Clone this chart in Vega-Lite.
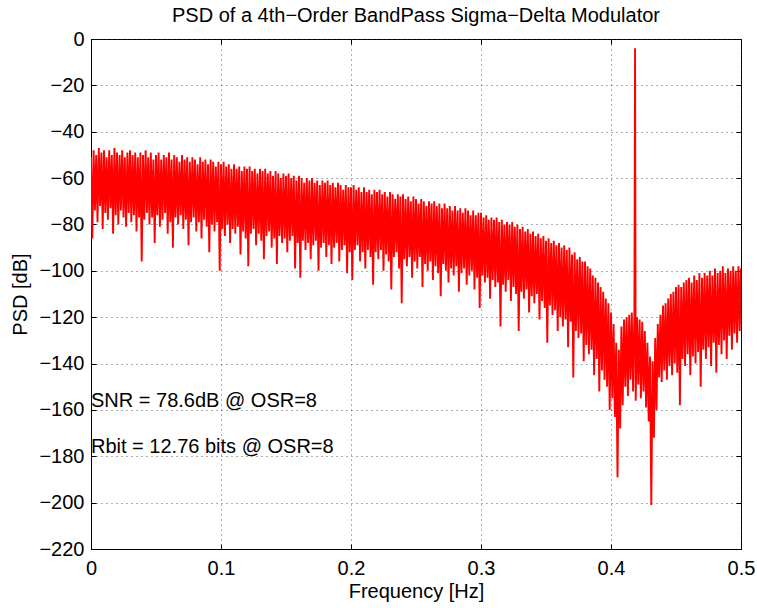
{
  "$schema": "https://vega.github.io/schema/vega-lite/v6.json",
  "width": 650,
  "height": 510,
  "autosize": {"type": "none"},
  "padding": {"left": 91, "top": 39, "right": 16, "bottom": 59},
  "background": "white",
  "title": {"text": "PSD of a 4th−Order BandPass Sigma−Delta Modulator", "font": "Liberation Sans", "fontSize": 20, "fontWeight": "normal", "color": "black", "anchor": "middle", "offset": 3},
  "config": {
    "view": {"stroke": "black", "strokeWidth": 1},
    "axis": {"labelFont": "Liberation Sans", "titleFont": "Liberation Sans", "labelColor": "black", "titleColor": "black", "domainColor": "black", "tickColor": "black", "gridColor": "#333", "gridDash": [1, 4], "gridOpacity": 0.8, "labelOverlap": false, "labelFlush": false}
  },
  "datasets": {
    "psd": [
      {"f":0.000,"p":-51},{"f":0.001,"p":-86},{"f":0.002,"p":-48},{"f":0.003,"p":-74},{"f":0.004,"p":-50},{"f":0.005,"p":-79},{"f":0.006,"p":-47},{"f":0.007,"p":-72},{"f":0.008,"p":-49},{"f":0.009,"p":-82},
      {"f":0.010,"p":-48},{"f":0.011,"p":-75},{"f":0.012,"p":-51},{"f":0.013,"p":-78},{"f":0.014,"p":-48},{"f":0.015,"p":-73},{"f":0.016,"p":-50},{"f":0.017,"p":-84},{"f":0.018,"p":-47},{"f":0.019,"p":-76},
      {"f":0.020,"p":-49},{"f":0.021,"p":-80},{"f":0.022,"p":-50},{"f":0.023,"p":-74},{"f":0.024,"p":-48},{"f":0.025,"p":-77},{"f":0.026,"p":-51},{"f":0.027,"p":-81},{"f":0.028,"p":-49},{"f":0.029,"p":-75},
      {"f":0.030,"p":-48},{"f":0.031,"p":-79},{"f":0.032,"p":-50},{"f":0.033,"p":-76},{"f":0.034,"p":-49},{"f":0.035,"p":-83},{"f":0.036,"p":-51},{"f":0.037,"p":-77},{"f":0.038,"p":-49},{"f":0.039,"p":-96},
      {"f":0.040,"p":-50},{"f":0.041,"p":-78},{"f":0.042,"p":-48},{"f":0.043,"p":-75},{"f":0.044,"p":-51},{"f":0.045,"p":-80},{"f":0.046,"p":-49},{"f":0.047,"p":-77},{"f":0.048,"p":-52},{"f":0.049,"p":-88},
      {"f":0.050,"p":-50},{"f":0.051,"p":-76},{"f":0.052,"p":-49},{"f":0.053,"p":-81},{"f":0.054,"p":-52},{"f":0.055,"p":-78},{"f":0.056,"p":-50},{"f":0.057,"p":-75},{"f":0.058,"p":-51},{"f":0.059,"p":-84},
      {"f":0.060,"p":-49},{"f":0.061,"p":-79},{"f":0.062,"p":-52},{"f":0.063,"p":-90},{"f":0.064,"p":-50},{"f":0.065,"p":-77},{"f":0.066,"p":-51},{"f":0.067,"p":-80},{"f":0.068,"p":-53},{"f":0.069,"p":-76},
      {"f":0.070,"p":-50},{"f":0.071,"p":-82},{"f":0.072,"p":-52},{"f":0.073,"p":-78},{"f":0.074,"p":-51},{"f":0.075,"p":-89},{"f":0.076,"p":-53},{"f":0.077,"p":-79},{"f":0.078,"p":-51},{"f":0.079,"p":-77},
      {"f":0.080,"p":-52},{"f":0.081,"p":-83},{"f":0.082,"p":-54},{"f":0.083,"p":-79},{"f":0.084,"p":-51},{"f":0.085,"p":-86},{"f":0.086,"p":-53},{"f":0.087,"p":-78},{"f":0.088,"p":-52},{"f":0.089,"p":-81},
      {"f":0.090,"p":-54},{"f":0.091,"p":-92},{"f":0.092,"p":-52},{"f":0.093,"p":-80},{"f":0.094,"p":-53},{"f":0.095,"p":-83},{"f":0.096,"p":-55},{"f":0.097,"p":-79},{"f":0.098,"p":-53},{"f":0.099,"p":-100},
      {"f":0.100,"p":-54},{"f":0.101,"p":-82},{"f":0.102,"p":-53},{"f":0.103,"p":-85},{"f":0.104,"p":-55},{"f":0.105,"p":-80},{"f":0.106,"p":-54},{"f":0.107,"p":-88},{"f":0.108,"p":-56},{"f":0.109,"p":-82},
      {"f":0.110,"p":-54},{"f":0.111,"p":-84},{"f":0.112,"p":-56},{"f":0.113,"p":-81},{"f":0.114,"p":-55},{"f":0.115,"p":-93},{"f":0.116,"p":-57},{"f":0.117,"p":-83},{"f":0.118,"p":-55},{"f":0.119,"p":-86},
      {"f":0.120,"p":-56},{"f":0.121,"p":-98},{"f":0.122,"p":-55},{"f":0.123,"p":-84},{"f":0.124,"p":-57},{"f":0.125,"p":-82},{"f":0.126,"p":-56},{"f":0.127,"p":-89},{"f":0.128,"p":-58},{"f":0.129,"p":-84},
      {"f":0.130,"p":-56},{"f":0.131,"p":-87},{"f":0.132,"p":-57},{"f":0.133,"p":-95},{"f":0.134,"p":-56},{"f":0.135,"p":-85},{"f":0.136,"p":-58},{"f":0.137,"p":-83},{"f":0.138,"p":-57},{"f":0.139,"p":-90},
      {"f":0.140,"p":-59},{"f":0.141,"p":-86},{"f":0.142,"p":-57},{"f":0.143,"p":-97},{"f":0.144,"p":-58},{"f":0.145,"p":-85},{"f":0.146,"p":-60},{"f":0.147,"p":-88},{"f":0.148,"p":-58},{"f":0.149,"p":-86},
      {"f":0.150,"p":-59},{"f":0.151,"p":-92},{"f":0.152,"p":-58},{"f":0.153,"p":-87},{"f":0.154,"p":-60},{"f":0.155,"p":-85},{"f":0.156,"p":-59},{"f":0.157,"p":-99},{"f":0.158,"p":-61},{"f":0.159,"p":-88},
      {"f":0.160,"p":-59},{"f":0.161,"p":-103},{"f":0.162,"p":-60},{"f":0.163,"p":-87},{"f":0.164,"p":-62},{"f":0.165,"p":-91},{"f":0.166,"p":-60},{"f":0.167,"p":-88},{"f":0.168,"p":-61},{"f":0.169,"p":-95},
      {"f":0.170,"p":-60},{"f":0.171,"p":-89},{"f":0.172,"p":-62},{"f":0.173,"p":-87},{"f":0.174,"p":-61},{"f":0.175,"p":-100},{"f":0.176,"p":-63},{"f":0.177,"p":-90},{"f":0.178,"p":-61},{"f":0.179,"p":-88},
      {"f":0.180,"p":-62},{"f":0.181,"p":-94},{"f":0.182,"p":-61},{"f":0.183,"p":-89},{"f":0.184,"p":-63},{"f":0.185,"p":-97},{"f":0.186,"p":-62},{"f":0.187,"p":-90},{"f":0.188,"p":-64},{"f":0.189,"p":-88},
      {"f":0.190,"p":-62},{"f":0.191,"p":-96},{"f":0.192,"p":-63},{"f":0.193,"p":-91},{"f":0.194,"p":-65},{"f":0.195,"p":-89},{"f":0.196,"p":-63},{"f":0.197,"p":-101},{"f":0.198,"p":-64},{"f":0.199,"p":-92},
      {"f":0.200,"p":-64},{"f":0.201,"p":-104},{"f":0.202,"p":-63},{"f":0.203,"p":-91},{"f":0.204,"p":-65},{"f":0.205,"p":-89},{"f":0.206,"p":-64},{"f":0.207,"p":-96},{"f":0.208,"p":-66},{"f":0.209,"p":-92},
      {"f":0.210,"p":-64},{"f":0.211,"p":-99},{"f":0.212,"p":-66},{"f":0.213,"p":-91},{"f":0.214,"p":-65},{"f":0.215,"p":-94},{"f":0.216,"p":-67},{"f":0.217,"p":-106},{"f":0.218,"p":-65},{"f":0.219,"p":-92},
      {"f":0.220,"p":-66},{"f":0.221,"p":-95},{"f":0.222,"p":-65},{"f":0.223,"p":-91},{"f":0.224,"p":-67},{"f":0.225,"p":-100},{"f":0.226,"p":-66},{"f":0.227,"p":-93},{"f":0.228,"p":-68},{"f":0.229,"p":-96},
      {"f":0.230,"p":-66},{"f":0.231,"p":-108},{"f":0.232,"p":-67},{"f":0.233,"p":-94},{"f":0.234,"p":-69},{"f":0.235,"p":-92},{"f":0.236,"p":-67},{"f":0.237,"p":-99},{"f":0.238,"p":-68},{"f":0.239,"p":-114},
      {"f":0.240,"p":-67},{"f":0.241,"p":-95},{"f":0.242,"p":-69},{"f":0.243,"p":-98},{"f":0.244,"p":-68},{"f":0.245,"p":-94},{"f":0.246,"p":-70},{"f":0.247,"p":-103},{"f":0.248,"p":-68},{"f":0.249,"p":-96},
      {"f":0.250,"p":-69},{"f":0.251,"p":-99},{"f":0.252,"p":-71},{"f":0.253,"p":-94},{"f":0.254,"p":-69},{"f":0.255,"p":-107},{"f":0.256,"p":-70},{"f":0.257,"p":-97},{"f":0.258,"p":-72},{"f":0.259,"p":-100},
      {"f":0.260,"p":-70},{"f":0.261,"p":-96},{"f":0.262,"p":-71},{"f":0.263,"p":-104},{"f":0.264,"p":-70},{"f":0.265,"p":-98},{"f":0.266,"p":-72},{"f":0.267,"p":-101},{"f":0.268,"p":-71},{"f":0.269,"p":-111},
      {"f":0.270,"p":-73},{"f":0.271,"p":-97},{"f":0.272,"p":-71},{"f":0.273,"p":-100},{"f":0.274,"p":-73},{"f":0.275,"p":-105},{"f":0.276,"p":-72},{"f":0.277,"p":-99},{"f":0.278,"p":-74},{"f":0.279,"p":-102},
      {"f":0.280,"p":-72},{"f":0.281,"p":-98},{"f":0.282,"p":-74},{"f":0.283,"p":-109},{"f":0.284,"p":-73},{"f":0.285,"p":-101},{"f":0.286,"p":-75},{"f":0.287,"p":-99},{"f":0.288,"p":-73},{"f":0.289,"p":-106},
      {"f":0.290,"p":-74},{"f":0.291,"p":-102},{"f":0.292,"p":-76},{"f":0.293,"p":-100},{"f":0.294,"p":-74},{"f":0.295,"p":-108},{"f":0.296,"p":-76},{"f":0.297,"p":-103},{"f":0.298,"p":-75},{"f":0.299,"p":-116},
      {"f":0.300,"p":-75},{"f":0.301,"p":-102},{"f":0.302,"p":-77},{"f":0.303,"p":-105},{"f":0.304,"p":-76},{"f":0.305,"p":-103},{"f":0.306,"p":-78},{"f":0.307,"p":-112},{"f":0.308,"p":-77},{"f":0.309,"p":-104},
      {"f":0.310,"p":-78},{"f":0.311,"p":-107},{"f":0.312,"p":-77},{"f":0.313,"p":-105},{"f":0.314,"p":-79},{"f":0.315,"p":-124},{"f":0.316,"p":-78},{"f":0.317,"p":-106},{"f":0.318,"p":-80},{"f":0.319,"p":-109},
      {"f":0.320,"p":-79},{"f":0.321,"p":-104},{"f":0.322,"p":-80},{"f":0.323,"p":-113},{"f":0.324,"p":-79},{"f":0.325,"p":-107},{"f":0.326,"p":-81},{"f":0.327,"p":-110},{"f":0.328,"p":-80},{"f":0.329,"p":-126},
      {"f":0.330,"p":-82},{"f":0.331,"p":-109},{"f":0.332,"p":-81},{"f":0.333,"p":-112},{"f":0.334,"p":-83},{"f":0.335,"p":-108},{"f":0.336,"p":-82},{"f":0.337,"p":-118},{"f":0.338,"p":-84},{"f":0.339,"p":-111},
      {"f":0.340,"p":-83},{"f":0.341,"p":-114},{"f":0.342,"p":-85},{"f":0.343,"p":-110},{"f":0.344,"p":-84},{"f":0.345,"p":-121},{"f":0.346,"p":-86},{"f":0.347,"p":-113},{"f":0.348,"p":-85},{"f":0.349,"p":-116},
      {"f":0.350,"p":-87},{"f":0.351,"p":-131},{"f":0.352,"p":-86},{"f":0.353,"p":-115},{"f":0.354,"p":-88},{"f":0.355,"p":-119},{"f":0.356,"p":-87},{"f":0.357,"p":-117},{"f":0.358,"p":-89},{"f":0.359,"p":-126},
      {"f":0.360,"p":-88},{"f":0.361,"p":-120},{"f":0.362,"p":-90},{"f":0.363,"p":-124},{"f":0.364,"p":-89},{"f":0.365,"p":-121},{"f":0.366,"p":-91},{"f":0.367,"p":-133},{"f":0.368,"p":-90},{"f":0.369,"p":-122},
      {"f":0.370,"p":-93},{"f":0.371,"p":-146},{"f":0.372,"p":-92},{"f":0.373,"p":-126},{"f":0.374,"p":-95},{"f":0.375,"p":-129},{"f":0.376,"p":-94},{"f":0.377,"p":-127},{"f":0.378,"p":-96},{"f":0.379,"p":-139},
      {"f":0.380,"p":-96},{"f":0.381,"p":-132},{"f":0.382,"p":-98},{"f":0.383,"p":-136},{"f":0.384,"p":-99},{"f":0.385,"p":-134},{"f":0.386,"p":-102},{"f":0.387,"p":-145},{"f":0.388,"p":-103},{"f":0.389,"p":-138},
      {"f":0.390,"p":-105},{"f":0.391,"p":-152},{"f":0.392,"p":-107},{"f":0.393,"p":-143},{"f":0.394,"p":-109},{"f":0.395,"p":-147},{"f":0.396,"p":-112},{"f":0.397,"p":-150},{"f":0.398,"p":-114},{"f":0.399,"p":-160},
      {"f":0.400,"p":-118},{"f":0.401,"p":-155},{"f":0.402,"p":-123},{"f":0.403,"p":-163},{"f":0.404,"p":-131},{"f":0.405,"p":-189},{"f":0.406,"p":-134},{"f":0.407,"p":-168},{"f":0.408,"p":-124},{"f":0.409,"p":-158},
      {"f":0.410,"p":-121},{"f":0.411,"p":-150},{"f":0.412,"p":-120},{"f":0.413,"p":-154},{"f":0.414,"p":-119},{"f":0.415,"p":-147},{"f":0.416,"p":-118},{"f":0.417,"p":-152},{"f":0.418,"p":-119},{"f":0.4185,"p":-4},{"f":0.419,"p":-156},
      {"f":0.420,"p":-120},{"f":0.421,"p":-149},{"f":0.422,"p":-121},{"f":0.423,"p":-155},{"f":0.424,"p":-122},{"f":0.425,"p":-152},{"f":0.426,"p":-126},{"f":0.427,"p":-159},{"f":0.428,"p":-131},{"f":0.429,"p":-165},
      {"f":0.430,"p":-137},{"f":0.431,"p":-201},{"f":0.432,"p":-139},{"f":0.433,"p":-172},{"f":0.434,"p":-129},{"f":0.435,"p":-160},{"f":0.436,"p":-123},{"f":0.437,"p":-146},{"f":0.438,"p":-119},{"f":0.439,"p":-148},
      {"f":0.440,"p":-115},{"f":0.441,"p":-143},{"f":0.442,"p":-114},{"f":0.443,"p":-147},{"f":0.444,"p":-112},{"f":0.445,"p":-141},{"f":0.446,"p":-110},{"f":0.447,"p":-145},{"f":0.448,"p":-109},{"f":0.449,"p":-140},
      {"f":0.450,"p":-107},{"f":0.451,"p":-144},{"f":0.452,"p":-106},{"f":0.453,"p":-158},{"f":0.454,"p":-107},{"f":0.455,"p":-138},{"f":0.456,"p":-105},{"f":0.457,"p":-141},{"f":0.458,"p":-104},{"f":0.459,"p":-136},
      {"f":0.460,"p":-103},{"f":0.461,"p":-145},{"f":0.462,"p":-105},{"f":0.463,"p":-137},{"f":0.464,"p":-102},{"f":0.465,"p":-140},{"f":0.466,"p":-104},{"f":0.467,"p":-135},{"f":0.468,"p":-101},{"f":0.469,"p":-150},
      {"f":0.470,"p":-103},{"f":0.471,"p":-134},{"f":0.472,"p":-101},{"f":0.473,"p":-138},{"f":0.474,"p":-102},{"f":0.475,"p":-133},{"f":0.476,"p":-100},{"f":0.477,"p":-141},{"f":0.478,"p":-102},{"f":0.479,"p":-131},
      {"f":0.480,"p":-99},{"f":0.481,"p":-144},{"f":0.482,"p":-101},{"f":0.483,"p":-132},{"f":0.484,"p":-100},{"f":0.485,"p":-136},{"f":0.486,"p":-98},{"f":0.487,"p":-130},{"f":0.488,"p":-101},{"f":0.489,"p":-138},
      {"f":0.490,"p":-99},{"f":0.491,"p":-128},{"f":0.492,"p":-100},{"f":0.493,"p":-134},{"f":0.494,"p":-98},{"f":0.495,"p":-127},{"f":0.496,"p":-100},{"f":0.497,"p":-131},{"f":0.498,"p":-98},{"f":0.499,"p":-126},
      {"f":0.500,"p":-99}
    ],
    "notes": [
      {"x": 0, "y": -160, "t": "SNR = 78.6dB @ OSR=8"},
      {"x": 0, "y": -180, "t": "Rbit = 12.76 bits @ OSR=8"}
    ]
  },
  "layer": [
    {
      "data": {"name": "psd"},
      "mark": {"type": "line", "color": "#ff0000", "strokeWidth": 1.9, "clip": true},
      "encoding": {
        "x": {"field": "f", "type": "quantitative", "scale": {"domain": [0, 0.5], "nice": false, "zero": false},
              "axis": {"orient": "bottom", "values": [0, 0.1, 0.2, 0.3, 0.4, 0.5], "format": ".1~f", "title": "Frequency [Hz]", "titleFontSize": 20, "titleFontWeight": "normal", "titleY": 42, "titleBaseline": "middle", "labelFontSize": 20, "tickSize": -5, "labelPadding": 14, "grid": true}},
        "y": {"field": "p", "type": "quantitative", "scale": {"domain": [-220, 0], "nice": false, "zero": false},
              "axis": {"orient": "left", "values": [-220, -200, -180, -160, -140, -120, -100, -80, -60, -40, -20, 0], "format": "d", "title": "PSD [dB]", "titleFontSize": 20, "titleFontWeight": "normal", "titleX": -71, "titleY": 255, "titleAngle": -90, "titleBaseline": "middle", "titleAlign": "center", "labelFontSize": 20, "tickSize": -5, "labelPadding": 12, "grid": true}}
      }
    },
    {
      "data": {"name": "notes"},
      "mark": {"type": "text", "align": "left", "baseline": "alphabetic", "dy": -3, "font": "Liberation Sans", "fontSize": 20, "color": "black"},
      "encoding": {
        "x": {"field": "x", "type": "quantitative", "axis": {"orient": "top", "values": [0, 0.1, 0.2, 0.3, 0.4, 0.5], "labels": false, "title": null, "tickSize": -5, "grid": false, "domain": false}},
        "y": {"field": "y", "type": "quantitative", "axis": {"orient": "right", "values": [-220, -200, -180, -160, -140, -120, -100, -80, -60, -40, -20, 0], "labels": false, "title": null, "tickSize": -5, "grid": false, "domain": false}},
        "text": {"field": "t"}
      }
    }
  ],
  "resolve": {"axis": {"x": "independent", "y": "independent"}}
}
